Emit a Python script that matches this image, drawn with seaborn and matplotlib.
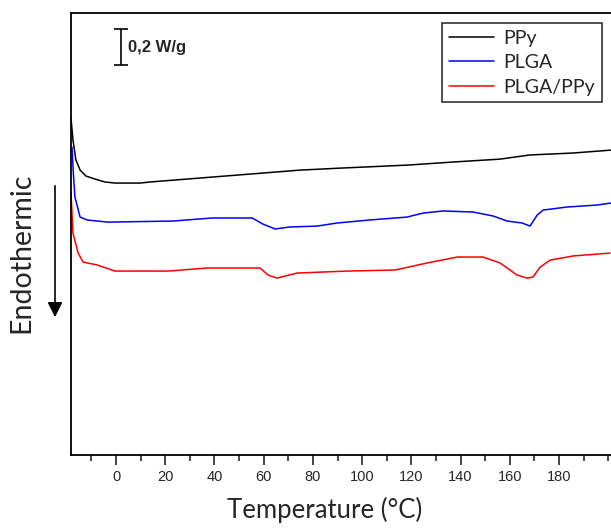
import numpy as np
import pandas as pd
import matplotlib
matplotlib.use("Agg")
import matplotlib.pyplot as plt
import seaborn as sns
from matplotlib.ticker import MultipleLocator
from matplotlib.lines import Line2D

# ---- data (temperature in °C, heat flow in W/g, arbitrary offset) ----
ppy_T = [-18.3, -17.5, -16.3, -14.6, -12.2, -8.5, -4.5, -0.4, 9.8, 13.8, 34.1, 54.4,
         74.8, 91.0, 118.6, 137.0, 156.0, 168.0, 185.7, 201.0]
ppy_hf = [1.872, 1.750, 1.639, 1.583, 1.550, 1.533, 1.517, 1.511, 1.511, 1.517, 1.539,
          1.561, 1.583, 1.594, 1.611, 1.628, 1.644, 1.667, 1.678, 1.694]

plga_T = [-17.9, -17.3, -16.7, -14.6, -11.8, -3.3, 23.2, 39.0, 55.3, 59.7, 64.6, 70.7,
          81.7, 89.8, 103.2, 118.2, 124.7, 132.9, 145.1, 153.2, 158.9, 165.0, 168.2,
          171.1, 173.5, 183.3, 195.4, 201.1]
plga_hf = [1.711, 1.556, 1.433, 1.322, 1.306, 1.294, 1.300, 1.317, 1.317, 1.283, 1.256,
           1.267, 1.272, 1.289, 1.306, 1.322, 1.344, 1.356, 1.350, 1.328, 1.300, 1.289,
           1.272, 1.333, 1.361, 1.378, 1.389, 1.400]

blend_T = [-18.3, -17.9, -17.5, -15.4, -13.4, -7.7, -0.4, 21.1, 37.0, 58.5, 61.8, 65.4,
           73.5, 93.9, 113.4, 126.4, 138.6, 149.1, 156.0, 162.9, 167.0, 169.4, 172.3,
           176.4, 185.7, 200.7]
blend_hf = [1.456, 1.344, 1.233, 1.122, 1.072, 1.056, 1.022, 1.022, 1.039, 1.039, 1.000,
            0.983, 1.011, 1.022, 1.028, 1.067, 1.100, 1.100, 1.067, 1.000, 0.983, 0.989,
            1.044, 1.083, 1.106, 1.122]

series_names = ["PPy", "PLGA", "PLGA/PPy"]
series_colors = ["black", "blue", "red"]
x_ticks = [0, 20, 40, 60, 80, 100, 120, 140, 160, 180]

df = pd.concat([
    pd.DataFrame({"T": ppy_T, "hf": ppy_hf, "sample": "PPy"}),
    pd.DataFrame({"T": plga_T, "hf": plga_hf, "sample": "PLGA"}),
    pd.DataFrame({"T": blend_T, "hf": blend_hf, "sample": "PLGA/PPy"}),
], ignore_index=True)

sns.set_style("ticks")
plt.rcParams["font.family"] = ["Lato", "DejaVu Sans"]

fig = plt.figure(figsize=(6.11, 5.30), dpi=100)
ax = fig.add_axes([71 / 611, 1 - 455 / 530, 1 - 71 / 611, (455 - 13) / 530])

sns.lineplot(data=df, x="T", y="hf", hue="sample", hue_order=series_names,
             palette=series_colors, sort=False, estimator=None, lw=1.1,
             legend=False, ax=ax)

ax.set_xlim(-18.3, 201.1)
ax.set_ylim(0, 2.456)
ax.set_xticks(x_ticks)
ax.xaxis.set_minor_locator(MultipleLocator(10))
ax.set_yticks([])
ax.tick_params(axis="x", which="major", length=7, width=1.2, direction="out",
               pad=4, labelsize=10.5, labelfontfamily="Liberation Sans")
ax.tick_params(axis="x", which="minor", length=4, width=1.2, direction="out")
for s in ["left", "bottom", "top"]:
    ax.spines[s].set_linewidth(1.3)
    ax.spines[s].set_color("black")
ax.spines["right"].set_visible(False)

ax.set_xlabel("Temperature (°C)", fontsize=18.5)
ax.xaxis.set_label_coords(325 / 611, 1 - 497 / 530, transform=fig.transFigure)
ax.set_ylabel("")

# Endothermic label with arrow
fig.text(21 / 611, 1 - 253 / 530, "Endothermic", rotation=90, fontsize=20.5,
         ha="center", va="center")
fig.add_artist(matplotlib.patches.FancyArrowPatch(
    (55 / 611, 1 - 183 / 530), (55 / 611, 1 - 320 / 530),
    transform=fig.transFigure, arrowstyle="-|>,head_length=6,head_width=3",
    color="black", lw=1.2, mutation_scale=1.5))

# scale bar 0,2 W/g
ax.errorbar([2.0], [2.267], yerr=[[0.1], [0.1]], color="black", capsize=5,
            elinewidth=1.2, capthick=1.2)
ax.text(4.8, 2.267, "0,2 W/g", fontsize=12, fontweight="bold",
        family="Liberation Sans", va="center", ha="left")

handles = [Line2D([0], [0], color=c, lw=1.1) for c in series_colors]
leg = ax.legend(handles, series_names, loc="upper right",
                bbox_to_anchor=(602 / 611, 1 - 23 / 530), bbox_transform=fig.transFigure,
                fontsize=14, frameon=True, fancybox=False, handlelength=2.3,
                borderpad=0.35, labelspacing=0.38, handletextpad=0.5, borderaxespad=0)
leg.get_frame().set_edgecolor("black")
leg.get_frame().set_linewidth(1.2)

fig.savefig("out.png", dpi=100)
